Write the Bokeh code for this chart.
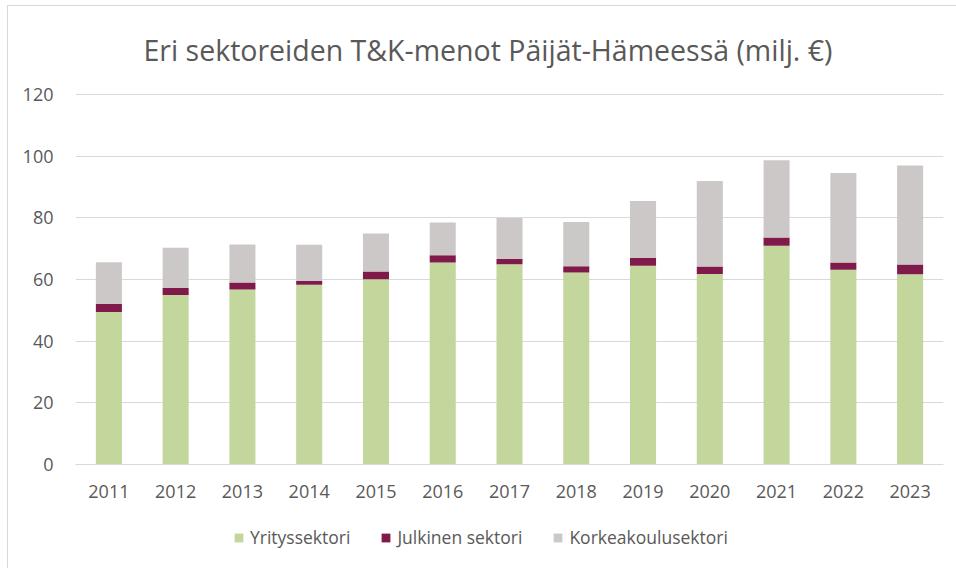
from bokeh.plotting import figure
from bokeh.layouts import column
from bokeh.models import Range1d, FactorRange, Legend, LegendItem, Title, SingleIntervalTicker
from bokeh.embed import file_html
from bokeh.resources import INLINE

years = ["2011", "2012", "2013", "2014", "2015", "2016", "2017", "2018", "2019", "2020", "2021", "2022", "2023"]
yritys = [49.5, 55.0, 56.8, 58.3, 60.1, 65.5, 65.0, 62.3, 64.5, 61.8, 71.0, 63.2, 61.7]
julkinen = [2.6, 2.3, 2.2, 1.2, 2.5, 2.4, 1.7, 2.0, 2.5, 2.4, 2.6, 2.3, 3.2]
korkea = [13.5, 13.0, 12.4, 11.8, 12.3, 10.6, 13.3, 14.4, 18.5, 27.8, 25.1, 29.1, 32.1]
series = ["Yrityssektori", "Julkinen sektori", "Korkeakoulusektori"]
colors = ["#c3d69b", "#7f1a4a", "#ccc8c8"]

FONT = "Open Sans"
TXT = "#595959"

data = {"years": years, series[0]: yritys, series[1]: julkinen, series[2]: korkea}

p = figure(width=948, height=504, x_range=FactorRange(*years), y_range=Range1d(0, 121),
           output_backend="svg", toolbar_location=None,
           min_border_left=67, min_border_right=13, min_border_top=85, min_border_bottom=46)

p.title = Title(text="Eri sektoreiden T&K-menot Päijät-Hämeessä (milj. €)", align="left",
                offset=68, text_font=FONT, text_font_size="28.5px", text_font_style="normal",
                text_color=TXT, standoff=45)

p.vbar_stack(series, x="years", width=0.39, color=colors, line_color=None, source=data)

p.outline_line_color = None
p.xgrid.grid_line_color = None
p.ygrid.grid_line_color = "#d9d9d9"
p.ygrid.grid_line_width = 1
p.yaxis.ticker = SingleIntervalTicker(interval=20)
p.yaxis.axis_line_color = None
p.yaxis.major_tick_line_color = None
p.yaxis.minor_tick_line_color = None
p.yaxis.major_label_standoff = 16
p.xaxis.axis_line_color = "#d9d9d9"
p.xaxis.major_tick_line_color = None
p.xaxis.minor_tick_line_color = None
p.xaxis.major_label_standoff = 14
for ax in (p.xaxis, p.yaxis):
    ax.major_label_text_font = FONT
    ax.major_label_text_font_size = "18px"
    ax.major_label_text_color = TXT

# legend strip: same stacked data, value range kept out of view so only the legend shows
lg = figure(width=948, height=58, x_range=FactorRange(*years), y_range=Range1d(500, 600),
            x_axis_type=None, y_axis_type=None, output_backend="svg", toolbar_location=None,
            min_border=0)
lrs = lg.vbar_stack(series, x="years", width=0.39, color=colors, line_color=None, source=data)
lg.grid.visible = False
lg.outline_line_color = None
legend = Legend(items=[LegendItem(label=s, renderers=[r]) for s, r in zip(series, lrs)],
                orientation="horizontal", location=(158, 19),
                label_text_font=FONT, label_text_font_size="17.5px", label_text_color=TXT,
                glyph_width=11, glyph_height=11, spacing=30, label_standoff=6,
                border_line_color=None, background_fill_alpha=0, padding=4, margin=0)
lg.add_layout(legend, "center")

page = column(p, lg, spacing=0)
page.styles = {"margin-left": "7px", "margin-top": "5px",
               "border-left": "1px solid #d9d9d9", "border-top": "1px solid #d9d9d9"}

open("out.html", "w").write(file_html(page, INLINE))
